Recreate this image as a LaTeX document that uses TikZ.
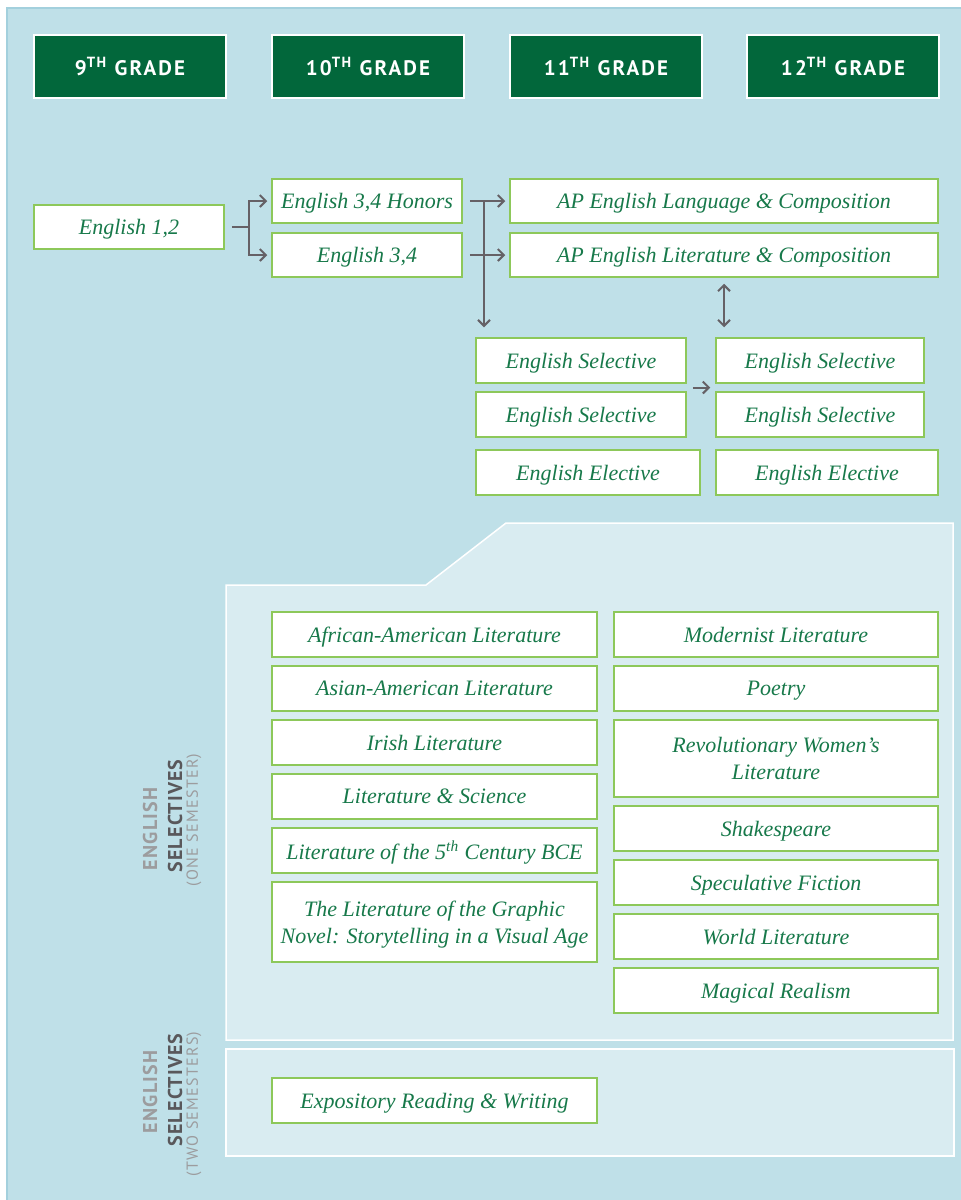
\documentclass[tikz,border=0pt]{standalone}
\usepackage{fontspec}
\setsansfont{PT Sans}
\newfontfamily\coursefont{Liberation Serif}
\usetikzlibrary{arrows.meta,calc}

\definecolor{bgblue}{HTML}{BFE0E8}
\definecolor{bgline}{HTML}{A3D0DD}
\definecolor{panel}{HTML}{D9ECF1}
\definecolor{hdgreen}{HTML}{02673B}
\definecolor{boxline}{HTML}{8DC85A}
\definecolor{txtgreen}{HTML}{17794A}
\definecolor{arrgray}{HTML}{656166}
\definecolor{lblight}{HTML}{9C9C9E}
\definecolor{lbdark}{HTML}{59585B}

\tikzstyle{grade} = [draw=white, line width=0.6pt, fill=hdgreen, text=white,
    minimum width=96pt, minimum height=31.5pt, inner sep=0pt,
    font=\sffamily\bfseries\fontsize{10.5}{12}\selectfont\addfontfeature{LetterSpace=10}]
\tikzstyle{course} = [draw=boxline, line width=0.75pt, fill=white, text=txtgreen,
    inner sep=0pt, minimum height=22pt, align=center, text depth=0pt,
    font=\coursefont\itshape\fontsize{11}{13.5}\selectfont]
\tikzstyle{link} = [draw=arrgray, line width=1pt]
\tikzstyle{arr} = [link, -{Straight Barb[length=3pt,width=6pt]}]
\tikzstyle{arrtwo} = [link, {Straight Barb[length=3pt,width=6pt]}-{Straight Barb[length=3pt,width=6pt]}]
\tikzstyle{side} = [rotate=90, inner sep=0pt,
    font=\sffamily\bfseries\fontsize{10}{12}\selectfont\addfontfeature{LetterSpace=6}]
\tikzstyle{sidesmall} = [rotate=90, inner sep=0pt, text=lblight,
    font=\sffamily\fontsize{8}{9}\selectfont\addfontfeature{LetterSpace=8}]

\begin{document}
\begin{tikzpicture}[x=0.5pt, y=-0.5pt]
                \useasboundingbox (0,0) rectangle (960,1200);
                % background and panels
                \draw[bgline, fill=bgblue, line width=0.75pt] (7,8) rectangle (964,1204);
                \draw[white, fill=panel, line width=0.75pt] (226,585) -- (426,585) -- (506,523)
                    -- (953,523) -- (953,1040) -- (226,1040) -- cycle;
                \draw[white, fill=panel, line width=0.75pt] (226,1049) rectangle (954,1156);

                % grade headers
                \node[grade] (g9) at (130,66.5) {9\textsuperscript{TH} GRADE};
                \node[grade] (g10) at (368,66.5) {10\textsuperscript{TH} GRADE};
                \node[grade] (g11) at (606,66.5) {11\textsuperscript{TH} GRADE};
                \node[grade] (g12) at (843,66.5) {12\textsuperscript{TH} GRADE};

                % course track
                \node[course, minimum width=95pt] (e12) at (129,227) {English 1,2};
                \node[course, minimum width=95pt] (hon) at (367,201) {English 3,4 Honors};
                \node[course, minimum width=95pt] (e34) at (367,255) {English 3,4};
                \node[course, minimum width=214pt] (apl) at (724,201) {AP English Language \& Composition};
                \node[course, minimum width=214pt] (apt) at (724,255) {AP English Literature \& Composition};
                \node[course, minimum width=105pt, minimum height=22.5pt] (s11a) at (581,360.5) {English Selective};
                \node[course, minimum width=105pt, minimum height=22.5pt] (s11b) at (581,414.5) {English Selective};
                \node[course, minimum width=112pt, minimum height=22.5pt] (el11) at (588,472.5) {English Elective};
                \node[course, minimum width=104pt, minimum height=22.5pt] (s12a) at (820,360.5) {English Selective};
                \node[course, minimum width=104pt, minimum height=22.5pt] (s12b) at (820,414.5) {English Selective};
                \node[course, minimum width=111pt, minimum height=22.5pt] (el12) at (827,472.5) {English Elective};

                % Draw edges
                \coordinate (f1) at (249,227);
                \draw[link] ([xshift=3.5pt]e12.east) -- (f1);
                \draw[arr, shorten >=2pt] (f1) |- (hon.west);
                \draw[arr, shorten >=2pt] (f1) |- (e34.west);
                \draw[arr, shorten <=3.5pt, shorten >=2pt] (hon.east) -- (apl.west);
                \draw[arr, shorten <=3.5pt, shorten >=2pt] (e34.east) -- (apt.west);
                \coordinate (f2) at (484,201);
                \draw[arr, shorten >=5pt] (f2) -- (f2 |- s11a.north);
                \draw[arrtwo, shorten <=3pt, shorten >=5pt] (apt.south) -- (apt.south |- s12a.north);
                \coordinate (m1) at ($(s11a.south east)!0.5!(s11b.north east)$);
                \coordinate (m2) at ($(s12a.south west)!0.5!(s12b.north west)$);
                \draw[arr, shorten <=3pt, shorten >=2.5pt] (m1) -- (m2);

                % one semester selectives
                \node[course, minimum width=162.5pt, minimum height=22.5pt] (afr) at (434.5,634.5) {African-American Literature};
                \node[course, minimum width=162.5pt, minimum height=22.5pt] (asi) at (434.5,688.5) {Asian-American Literature};
                \node[course, minimum width=162.5pt, minimum height=22.5pt] (iri) at (434.5,742.5) {Irish Literature};
                \node[course, minimum width=162.5pt, minimum height=22.5pt] (lsc) at (434.5,796.5) {Literature \& Science};
                \node[course, minimum width=162.5pt, minimum height=22.5pt] (cen) at (434.5,850.5) {Literature of the 5\textsuperscript{th} Century BCE};
                \node[course, minimum width=162.5pt, minimum height=40pt] (gra) at (434.5,922) {The Literature of the Graphic\\Novel: Storytelling in a Visual Age};
                \node[course, minimum width=162pt, minimum height=22.5pt] (mod) at (776,634.5) {Modernist Literature};
                \node[course, minimum width=162pt, minimum height=22.5pt] (poe) at (776,688.5) {Poetry};
                \node[course, minimum width=162pt, minimum height=38.5pt] (rev) at (776,758.5) {Revolutionary Women’s\\Literature};
                \node[course, minimum width=162pt, minimum height=22.5pt] (sha) at (776,828.5) {Shakespeare};
                \node[course, minimum width=162pt, minimum height=22.5pt] (spe) at (776,882.5) {Speculative Fiction};
                \node[course, minimum width=162pt, minimum height=22.5pt] (wor) at (776,936.5) {World Literature};
                \node[course, minimum width=162pt, minimum height=22.5pt] (mag) at (776,990.5) {Magical Realism};

                % two semester selectives
                \node[course, minimum width=162.5pt, minimum height=22.5pt] (exp) at (434.5,1100.5) {Expository Reading \& Writing};

                % side labels
                \node[side, text=lblight] (eng1) at (150,829) {ENGLISH};
                \node[side, text=lbdark] (sel1) at (175,816) {SELECTIVES};
                \node[sidesmall] (sem1) at (194,820) {(ONE SEMESTER)};
                \node[side, text=lblight] (eng2) at (150,1092) {ENGLISH};
                \node[side, text=lbdark] (sel2) at (175,1090) {SELECTIVES};
                \node[sidesmall] (sem2) at (194,1104) {(TWO SEMESTERS)};
\end{tikzpicture}
\end{document}
